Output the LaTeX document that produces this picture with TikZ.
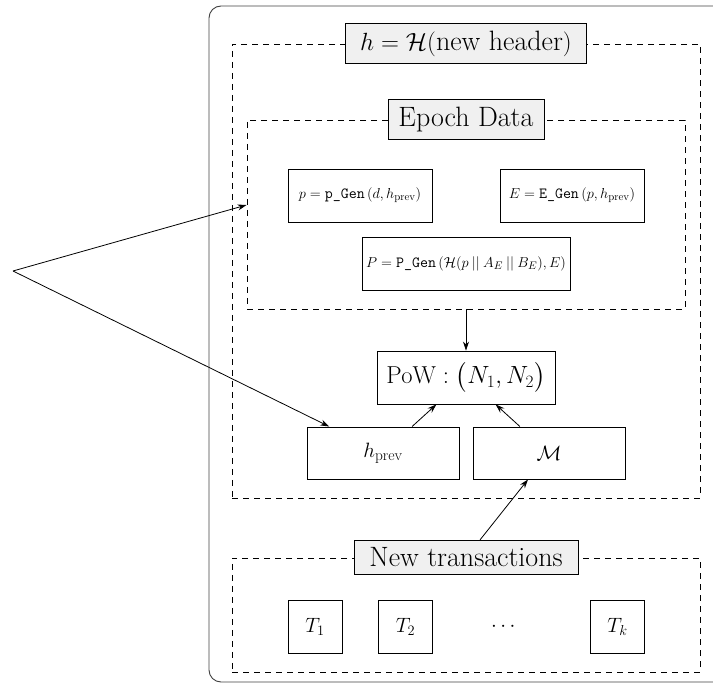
\documentclass[tikz,border=0pt]{standalone}
\usepackage{amsmath}
\usetikzlibrary{arrows.meta,calc}
\begin{document}
\begin{tikzpicture}[x=1pt,y=-1pt,
  box/.style={draw, line width=0.9pt, inner sep=0pt, align=center},
  bigtext/.style={font=\fontsize{22}{26}\selectfont},
  powtext/.style={font=\fontsize{24.5}{28}\selectfont},
  smalltext/.style={font=\fontsize{15.5}{18}\selectfont},
  lbl/.style={draw, fill=gray!12, line width=0.9pt, inner xsep=9pt, inner ysep=7.5pt, font=\fontsize{28}{32}\selectfont},
  dbox/.style={draw, dash pattern=on 6pt off 5pt, line width=0.9pt, inner sep=0pt},
  arr/.style={-{Stealth[length=9pt,width=6pt]}, line width=0.8pt}]
\useasboundingbox (0,0) rectangle (713,684);
% outer frame
\draw[line width=0.9pt, rounded corners=12pt, draw=black!75] (209,6) rectangle (760,682);
% dashed groups
\node[dbox, minimum width=468pt, minimum height=454pt] (hdr) at (466,271) {};
\node[dbox, minimum width=438pt, minimum height=189pt] (epoch) at (466,214.5) {};
\node[dbox, minimum width=468pt, minimum height=114pt] (ntbox) at (466,615) {};
% group labels
\node[lbl, minimum width=241pt] (hlab) at (hdr.north) {$h = \mathcal{H}(\text{new header})$};
\node[lbl, minimum width=156pt] (elab) at (epoch.north) {Epoch Data};
\node[lbl, minimum width=224pt] (nt) at (ntbox.north) {New transactions};
% epoch data boxes
\node[box, smalltext, minimum width=144pt, minimum height=53pt] (pg) at (360,195.5)
  {$p = \texttt{p\_Gen}\,(d, h_{\text{prev}})$};
\node[box, smalltext, minimum width=144pt, minimum height=53pt] (eg) at (572,195.5)
  {$E = \texttt{E\_Gen}\,(p, h_{\text{prev}})$};
\node[box, smalltext, minimum width=208pt, minimum height=53pt] (PG) at (466,263.5)
  {$P = \texttt{P\_Gen}\,(\mathcal{H}(p \mathbin{||} A_{E} \mathbin{||} B_{E}), E)$};
% PoW and inputs
\node[box, powtext, minimum width=178pt, minimum height=53pt] (pow) at (466,377.5)
  {$\text{PoW}:\bigl(N_1, N_2\bigr)$};
\node[box, bigtext, minimum width=152pt, minimum height=52pt] (hprev) at (383,453)
  {$h_{\text{prev}}$};
\node[box, bigtext, minimum width=152pt, minimum height=52pt] (M) at (549,453)
  {$\mathcal{M}$};
% transactions
\node[box, bigtext, minimum width=54pt, minimum height=53pt] (t1) at (315,626.5) {$T_1$};
\node[box, bigtext, minimum width=54pt, minimum height=53pt] (t2) at (405.5,626.5) {$T_2$};
\node[bigtext] (dots) at (505,626.5) {$\cdots$};
\node[box, bigtext, minimum width=54pt, minimum height=53pt] (tk) at (617.5,626.5) {$T_k$};
% connectors
\coordinate (src) at (13,271);
\draw[arr] (src) -- ($(epoch.north west)!0.45!(epoch.south west)$);
\draw[arr] (src) -- (hprev);
\draw[arr] (epoch.south) -- (pow.north);
\draw[arr] (hprev) -- (pow);
\draw[arr] (M) -- (pow);
\draw[arr] (nt) -- (M);
\end{tikzpicture}
\end{document}
